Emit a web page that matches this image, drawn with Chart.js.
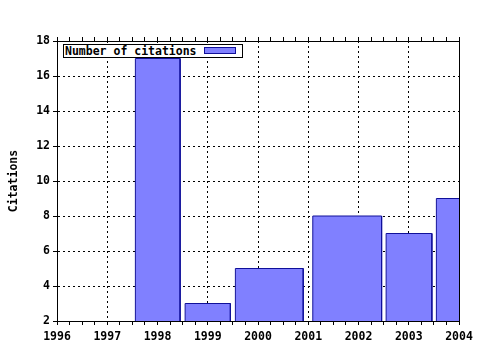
<!DOCTYPE html>
<html><head><meta charset="utf-8">
<script src="https://cdn.jsdelivr.net/npm/chart.js@4/dist/chart.umd.min.js"></script>
<style>
html,body{margin:0;padding:0;background:#fff;}
#wrap{position:relative;width:480px;height:350px;}
#legend{position:absolute;left:63px;top:44px;width:178px;height:12px;border:1px solid #000;background:#fff;
 font:bold 11.5px "DejaVu Sans Mono",monospace;color:#000;line-height:12px;white-space:nowrap;}
#legend span.t{position:absolute;left:1px;top:0;}
#legend span.s{position:absolute;left:140px;top:2px;width:30px;height:5px;background:#8080ff;border:1px solid #10109a;}
</style></head>
<body><div id="wrap"><canvas id="c" width="480" height="350"></canvas>
<div id="legend"><span class="t">Number of citations</span><span class="s"></span></div></div>
<script>
const years = [1996, 1997, 1998, 1999, 2000, 2001, 2002, 2003, 2004];
const yTicks = [2, 4, 6, 8, 10, 12, 14, 16, 18];
const barStart = [1997.56, 1998.55, 1999.55, 2001.09, 2002.55, 2003.55];
const barEnd   = [1998.45, 1999.45, 2000.90, 2002.46, 2003.46, 2004.45];
const citations = [17, 3, 5, 8, 7, 9];
const seriesName = 'Number of citations';

const FONT = {family: '"DejaVu Sans Mono", monospace', size: 11.5, weight: 'bold'};
const yMin = yTicks[0], yMax = yTicks[yTicks.length - 1];
const xMin = years[0], xMax = years[years.length - 1];

const datasets = citations.map((v, i) => ({
  label: seriesName,
  data: [{x: barStart[i], y: yMin}, {x: barStart[i], y: v}, {x: barEnd[i], y: v}, {x: barEnd[i], y: yMin}],
  borderColor: '#10109a',
  backgroundColor: '#8080ff',
  borderWidth: 1,
  pointRadius: 0,
  fill: 'start',
  tension: 0,
  clip: 0
}));

function quarterTicks(scale) {
  const t = [];
  for (let k = 0; k < years.length; k++) {
    t.push({value: years[k]});
    if (k < years.length - 1) for (let q = 1; q < 4; q++) t.push({value: years[k] + q / 4});
  }
  scale.ticks = t;
}
const isMajor = v => Number.isInteger(v);

new Chart(document.getElementById('c'), {
  type: 'line',
  data: {datasets},
  options: {
    responsive: false,
    animation: false,
    events: [],
    layout: {padding: {top: 37, left: 0, right: 21, bottom: 0}},
    plugins: {legend: {display: false}, tooltip: {enabled: false}},
    scales: {
      x: {
        type: 'linear', position: 'bottom', min: xMin, max: xMax,
        afterBuildTicks: quarterTicks,
        afterFit: s => { s.height = 29; },
        ticks: {autoSkip: false, maxRotation: 0, minRotation: 0, padding: 5, color: '#000', font: FONT,
          callback: v => isMajor(v) ? String(v) : ''},
        grid: {color: c => isMajor(c.tick.value) ? '#000' : 'rgba(0,0,0,0)', lineWidth: 1,
          tickColor: '#000', tickLength: 4, drawTicks: true},
        border: {color: '#000', width: 1, dash: [2, 3], z: 1}
      },
      x2: {
        type: 'linear', position: 'top', min: xMin, max: xMax,
        afterBuildTicks: quarterTicks,
        afterFit: s => { s.height = 4; },
        ticks: {display: false},
        grid: {drawOnChartArea: false, tickColor: '#000', tickLength: 4, color: '#000'},
        border: {color: '#000', width: 1, z: 1}
      },
      y: {
        type: 'linear', position: 'left', min: yMin, max: yMax,
        afterBuildTicks: s => { s.ticks = yTicks.map(v => ({value: v})); },
        afterFit: s => { s.width = 57; },
        ticks: {padding: 3, color: '#000', font: FONT},
        grid: {color: '#000', lineWidth: 1, tickColor: '#000', tickLength: 4},
        border: {color: '#000', width: 1, dash: [2, 3], z: 1},
        title: {display: true, text: 'Citations', color: '#000', font: FONT, padding: {top: 7, bottom: 0}}
      },
      y2: {
        type: 'linear', position: 'right', min: yMin, max: yMax,
        ticks: {display: false},
        grid: {drawOnChartArea: false, drawTicks: false},
        border: {color: '#000', width: 1, z: 1}
      }
    }
  }
});
</script></body></html>
